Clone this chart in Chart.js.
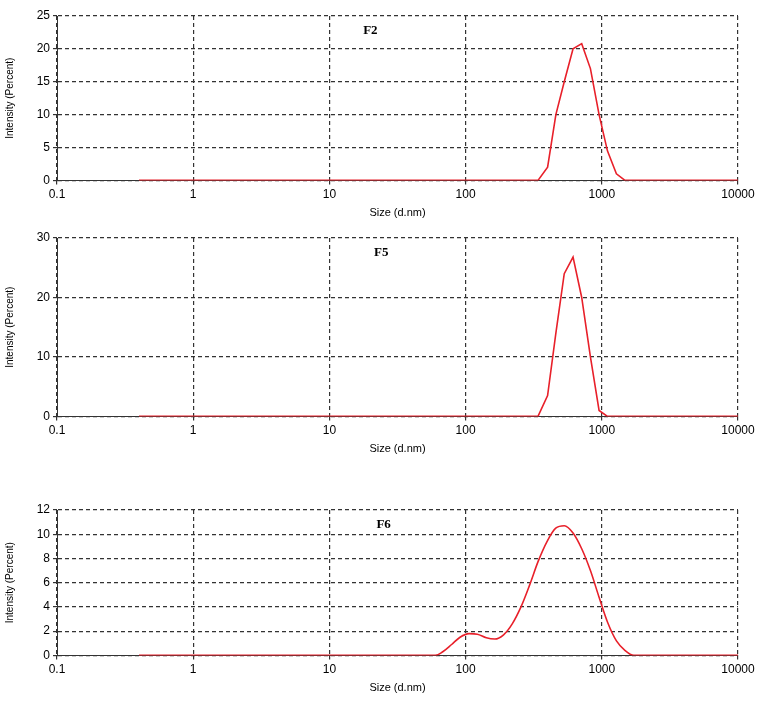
<!DOCTYPE html>
<html>
<head>
<meta charset="utf-8">
<script src="https://cdn.jsdelivr.net/npm/chart.js@4"></script>
<style>
  body { margin: 0; background: #fff; }
  .box { position: absolute; left: 0; width: 768px; }
</style>
</head>
<body>
<div class="box" style="top:0;height:222px"><canvas id="c1"></canvas></div>
<div class="box" style="top:222px;height:236px"><canvas id="c2"></canvas></div>
<div class="box" style="top:494px;height:233px"><canvas id="c3"></canvas></div>
<script>
// size bins (d.nm) and intensity (%)
const f2Sizes = [0.4, 340, 400, 460, 530, 615, 712, 825, 955, 1100, 1280, 1480, 10000];
const f2Values = [0, 0, 2, 10, 15, 20, 20.8, 17, 10, 4.5, 1, 0, 0];

const f5Sizes = [0.4, 340, 400, 460, 530, 615, 712, 825, 955, 1100, 10000];
const f5Values = [0, 0, 3.5, 14, 24, 26.8, 20, 10, 1, 0, 0];

const f6Sizes = [0.4, 60, 68, 79, 91, 106, 122, 142, 164, 190, 220, 255, 295, 342, 396, 459, 531, 615, 712, 825, 955, 1106, 1281, 1484, 1718, 10000];
const f6Values = [0, 0, 0.3, 0.9, 1.5, 1.8, 1.75, 1.45, 1.35, 1.7, 2.6, 4, 5.8, 7.8, 9.4, 10.5, 10.7, 10.1, 8.8, 7, 4.8, 2.7, 1.2, 0.4, 0, 0];

const decadeTicks = [0.1, 1, 10, 100, 1000, 10000];

const labelPlugin = {
  id: 'panelLabel',
  afterDatasetsDraw(chart, args, opts) {
    const { ctx, scales } = chart;
    ctx.save();
    ctx.font = 'bold 13px "Liberation Serif", serif';
    ctx.fillStyle = '#000';
    ctx.textAlign = 'center';
    ctx.fillText(opts.text, scales.x.getPixelForValue(opts.at), chart.chartArea.top + 18);
    ctx.restore();
  }
};

function makeChart(id, sizes, values, yMax, yStep, label, labelAt, bottomPad, smooth) {
  const grid = { color: '#333', lineWidth: 1.2, tickColor: '#333', tickLength: 4 };
  return new Chart(document.getElementById(id), {
    type: 'line',
    data: {
      datasets: [{
        data: sizes.map((s, i) => ({ x: s, y: values[i] })),
        borderColor: '#e8202a',
        borderWidth: 1.6,
        pointRadius: 0,
        cubicInterpolationMode: smooth ? 'monotone' : 'default',
        tension: 0
      }]
    },
    plugins: [labelPlugin],
    options: {
      responsive: true,
      maintainAspectRatio: false,
      animation: false,
      layout: { padding: { top: 16, right: 30, left: 4, bottom: bottomPad } },
      plugins: { legend: { display: false }, tooltip: { enabled: false }, panelLabel: { text: label, at: labelAt } },
      scales: {
        x: {
          type: 'logarithmic', min: 0.1, max: 10000,
          afterBuildTicks: s => { s.ticks = decadeTicks.map(v => ({ value: v })); },
          ticks: { color: '#000', font: { family: 'Arial, "Liberation Sans"', size: 12 }, callback: v => String(v), maxRotation: 0 },
          grid: { ...grid },
          border: { color: '#333', dash: [4, 3] },
          title: { display: true, text: 'Size (d.nm)', color: '#000', font: { family: 'Arial, "Liberation Sans"', size: 11 }, padding: 2 }
        },
        y: {
          min: 0, max: yMax,
          afterFit: s => { s.width = 53; },
          ticks: { stepSize: yStep, color: '#000', font: { family: 'Arial, "Liberation Sans"', size: 12 } },
          grid: { ...grid },
          border: { color: '#333', dash: [4, 3] },
          title: { display: true, text: 'Intensity (Percent)', color: '#000', font: { family: 'Arial, "Liberation Sans"', size: 10 }, padding: 0 }
        }
      }
    }
  });
}

const c1 = makeChart('c1', f2Sizes, f2Values, 25, 5, 'F2', 20, 0, false);
const c2 = makeChart('c2', f5Sizes, f5Values, 30, 10, 'F5', 24, 0, false);
const c3 = makeChart('c3', f6Sizes, f6Values, 12, 2, 'F6', 25, 30, true);
</script>
</body>
</html>
